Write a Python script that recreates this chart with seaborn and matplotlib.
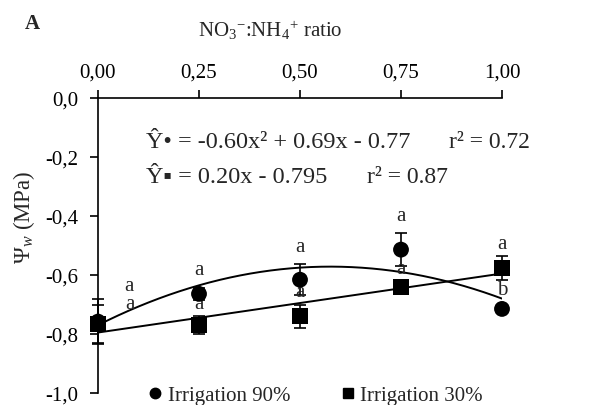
import numpy as np
import pandas as pd
import matplotlib
matplotlib.use("Agg")
import matplotlib.pyplot as plt
import seaborn as sns
from matplotlib.lines import Line2D

sns.set_theme(style="white")
plt.rcParams['font.family'] = ['Liberation Serif', 'DejaVu Sans']
plt.rcParams['mathtext.fontset'] = 'custom'
plt.rcParams['mathtext.rm'] = 'Liberation Serif'
plt.rcParams['mathtext.it'] = 'Liberation Serif:italic'

# ---- data ----
ratio = [0.00, 0.25, 0.50, 0.75, 1.00]
irr90 = [-0.758, -0.664, -0.616, -0.514, -0.715]
irr90_se = [0.077, 0.020, 0.053, 0.056, 0.004]
irr30 = [-0.766, -0.769, -0.740, -0.640, -0.577]
irr30_se = [0.065, 0.030, 0.040, 0.020, 0.040]
letters90 = ['a', 'a', 'a', 'a', 'b']
letters30 = ['a', 'a', 'a', 'a', 'a']
fit90 = [-0.60, 0.69, -0.77]   # quadratic coefficients
fit30 = [0.20, -0.795]          # linear coefficients
xticks = [0.00, 0.25, 0.50, 0.75, 1.00]
xticklabels = ['0,00', '0,25', '0,50', '0,75', '1,00']
yticks = [0.0, -0.2, -0.4, -0.6, -0.8, -1.0]
yticklabels = ['0,0', '-0,2', '-0,4', '-0,6', '-0,8', '-1,0']
series_names = ['Irrigation 90%', 'Irrigation 30%']
eq90 = 'Ŷ• = -0.60x² + 0.69x - 0.77'
r2_90 = 'r² = 0.72'
eq30 = 'Ŷ▪ = 0.20x - 0.795'
r2_30 = 'r² = 0.87'

W, H = 590, 406
fig = plt.figure(figsize=(W / 100, H / 100), dpi=100)
ax = fig.add_axes([98 / W, 1 - 394 / H, (502 - 98) / W, (394 - 99) / H])

# fitted curves
xs = np.linspace(0, 1, 200)
fit_df = pd.DataFrame({
    'x': np.concatenate([xs, xs]),
    'y': np.concatenate([np.polyval(fit90, xs), np.polyval(fit30, xs)]),
    'fit': ['f90'] * len(xs) + ['f30'] * len(xs),
})
sns.lineplot(data=fit_df, x='x', y='y', units='fit', estimator=None,
             color='black', lw=1.4, ax=ax, legend=False, zorder=2)

# error bars
ax.errorbar(ratio, irr90, yerr=irr90_se, fmt='none', ecolor='black',
            elinewidth=1.2, capsize=4, capthick=1.2, zorder=3, clip_on=False)
ax.errorbar(ratio, irr30, yerr=irr30_se, fmt='none', ecolor='black',
            elinewidth=1.2, capsize=4, capthick=1.2, zorder=3, clip_on=False)

pts = pd.DataFrame({
    'x': ratio + ratio,
    'y': irr90 + irr30,
    'series': [series_names[0]] * 5 + [series_names[1]] * 5,
})
sns.scatterplot(data=pts, x='x', y='y', style='series',
                markers={series_names[0]: 'o', series_names[1]: 's'},
                color='black', s=130, edgecolor='black', linewidth=0,
                ax=ax, legend=False, zorder=4, clip_on=False)

# letters (placed just above each upper whisker)
for i, x in enumerate(ratio):
    if x == 0:
        off90, off30 = (22, 10), (23, 1)
    else:
        off90, off30 = (0, 13), (0, 9)
    ax.annotate(letters90[i], (x, irr90[i] + irr90_se[i]), xytext=off90,
                textcoords='offset points', ha='center', va='center', fontsize=15)
    ax.annotate(letters30[i], (x, irr30[i] + irr30_se[i]), xytext=off30,
                textcoords='offset points', ha='center', va='center', fontsize=15)

ax.set_xlim(0, 1)
ax.set_ylim(-1.0, 0.0)
ax.xaxis.tick_top()
ax.set_xticks(xticks)
ax.set_xticklabels(xticklabels, fontsize=15)
ax.set_yticks(yticks)
ax.set_yticklabels(yticklabels, fontsize=15)
ax.tick_params(axis='x', direction='out', length=6, width=1.2, pad=6, top=True, bottom=False, colors='black')
ax.tick_params(axis='y', direction='out', length=6, width=1.2, pad=8, left=True, colors='black')
for s in ['right', 'bottom']:
    ax.spines[s].set_visible(False)
for s in ['left', 'top']:
    ax.spines[s].set_color('black')
    ax.spines[s].set_linewidth(1.2)
ax.set_xlabel('')
ax.set_ylabel(r'$\Psi_w$ (MPa)', fontsize=16.5)
ax.yaxis.set_label_coords(-0.15, 0.6)
ax.grid(False)

fig.text(270 / W, 1 - 30 / H, r'NO$_3$$^{-}$:NH$_4$$^{+}$ ratio', ha='center', va='center', fontsize=15)
fig.text(25 / W, 1 - 24 / H, 'A', ha='left', va='center', fontsize=15, fontweight='bold')

fig.text(146 / W, 1 - 143 / H, eq90, ha='left', va='center', fontsize=17.5)
fig.text(530 / W, 1 - 143 / H, r2_90, ha='right', va='center', fontsize=17)
fig.text(146 / W, 1 - 178 / H, eq30, ha='left', va='center', fontsize=17.5)
fig.text(448 / W, 1 - 178 / H, r2_30, ha='right', va='center', fontsize=17)

handles = [Line2D([], [], marker='o', color='black', ls='none', markersize=7.5),
           Line2D([], [], marker='s', color='black', ls='none', markersize=7.5)]
ax.legend(handles, series_names, ncol=2, loc='center', bbox_to_anchor=(0.537, -0.008),
          frameon=False, fontsize=15, handletextpad=0.2, columnspacing=2.35,
          handlelength=0.8, borderaxespad=0, borderpad=0)

fig.savefig('out.png', dpi=100)
